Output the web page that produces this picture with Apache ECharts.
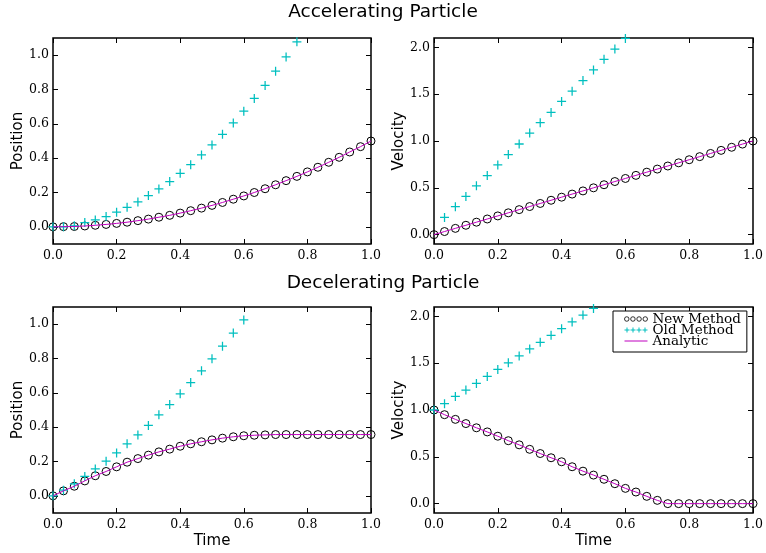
<!DOCTYPE html>
<html><head><meta charset="utf-8">
<script src="https://cdn.jsdelivr.net/npm/echarts@6/dist/echarts.min.js"></script>
<style>html,body{margin:0;padding:0;background:#fff}#c{width:766px;height:553px}</style>
</head><body><div id="c"></div>
<script>
// time samples
const time = [0, 0.033, 0.067, 0.1, 0.133, 0.167, 0.2, 0.233, 0.267, 0.3, 0.333, 0.367, 0.4, 0.433, 0.467, 0.5,
  0.533, 0.567, 0.6, 0.633, 0.667, 0.7, 0.733, 0.767, 0.8, 0.833, 0.867, 0.9, 0.933, 0.967, 1.0];

// Accelerating particle
const accPosNew = [0, 0.001, 0.002, 0.005, 0.009, 0.014, 0.02, 0.027, 0.036, 0.045, 0.056, 0.067, 0.08, 0.094, 0.109, 0.125,
  0.142, 0.161, 0.18, 0.2, 0.222, 0.245, 0.269, 0.294, 0.32, 0.347, 0.376, 0.405, 0.436, 0.467, 0.5];
const accPosOld = [0, 0, 0.006, 0.025, 0.04, 0.06, 0.085, 0.114, 0.145, 0.182, 0.221, 0.264, 0.312, 0.362, 0.419, 0.477,
  0.539, 0.605, 0.674, 0.748, 0.824, 0.907, 0.99, 1.078];
const accPosExact = [0, 0.001, 0.002, 0.005, 0.009, 0.014, 0.02, 0.027, 0.036, 0.045, 0.056, 0.067, 0.08, 0.094, 0.109, 0.125,
  0.142, 0.161, 0.18, 0.2, 0.222, 0.245, 0.269, 0.294, 0.32, 0.347, 0.376, 0.405, 0.436, 0.467, 0.5];
const accVelNew = [0, 0.033, 0.067, 0.1, 0.133, 0.167, 0.2, 0.233, 0.267, 0.3, 0.333, 0.367, 0.4, 0.433, 0.467, 0.5,
  0.533, 0.567, 0.6, 0.633, 0.667, 0.7, 0.733, 0.767, 0.8, 0.833, 0.867, 0.9, 0.933, 0.967, 1.0];
const accVelOld = [null, 0.184, 0.298, 0.408, 0.521, 0.631, 0.745, 0.855, 0.968, 1.085, 1.195, 1.305, 1.422, 1.532, 1.645,
  1.759, 1.872, 1.982, 2.095];
const accVelExact = [0, 0.033, 0.067, 0.1, 0.133, 0.167, 0.2, 0.233, 0.267, 0.3, 0.333, 0.367, 0.4, 0.433, 0.467, 0.5,
  0.533, 0.567, 0.6, 0.633, 0.667, 0.7, 0.733, 0.767, 0.8, 0.833, 0.867, 0.9, 0.933, 0.967, 1.0];

// Decelerating particle
const decPosNew = [0, 0.029, 0.056, 0.087, 0.117, 0.142, 0.169, 0.196, 0.217, 0.237, 0.256, 0.272, 0.289, 0.303, 0.315,
  0.326, 0.336, 0.344, 0.35, 0.353, 0.355, 0.357, 0.357, 0.357, 0.357, 0.357, 0.357, 0.357, 0.357, 0.357, 0.357];
const decPosOld = [0, 0.033, 0.07, 0.113, 0.157, 0.202, 0.25, 0.303, 0.355, 0.41, 0.472, 0.532, 0.594, 0.66, 0.728,
  0.798, 0.872, 0.948, 1.025, 1.105];
const decPosExact = [0, 0.029, 0.056, 0.087, 0.117, 0.142, 0.169, 0.196, 0.217, 0.237, 0.256, 0.272, 0.289, 0.303, 0.315,
  0.326, 0.336, 0.344, 0.35, 0.353, 0.355, 0.357, 0.357, 0.357, 0.357, 0.357, 0.357, 0.357, 0.357, 0.357, 0.357];
const decVelNew = [1.0, 0.95, 0.9, 0.855, 0.81, 0.766, 0.72, 0.672, 0.628, 0.58, 0.535, 0.49, 0.447, 0.394, 0.347,
  0.305, 0.26, 0.213, 0.163, 0.124, 0.078, 0.035, 0, 0, 0, 0, 0, 0, 0, 0, 0];
const decVelOld = [1.0, 1.067, 1.145, 1.213, 1.284, 1.358, 1.433, 1.504, 1.578, 1.652, 1.723, 1.798, 1.869, 1.94,
  2.014, 2.085];
const decVelExact = [1.0, 0.95, 0.9, 0.855, 0.81, 0.766, 0.72, 0.672, 0.628, 0.58, 0.535, 0.49, 0.447, 0.394, 0.347,
  0.305, 0.26, 0.213, 0.163, 0.124, 0.078, 0.035, 0, 0, 0, 0, 0, 0, 0, 0, 0];

// tick labels
const xTicks = [0, 0.2, 0.4, 0.6, 0.8, 1.0];
const posTicks = [0, 0.2, 0.4, 0.6, 0.8, 1.0];
const velTicks = [0, 0.5, 1.0, 1.5, 2.0];
const titles = ['Accelerating Particle', 'Decelerating Particle'];
const seriesNames = ['New Method', 'Old Method', 'Analytic'];

const CYAN = '#00bfbf', MAG = '#bf00bf';
const PLUS = 'path://M4.3,0H5.7V4.3H10V5.7H5.7V10H4.3V5.7H0V4.3H4.3Z';

function pairs(arr) { const out = []; arr.forEach((v, i) => { if (v !== null) out.push([time[i], v]); }); return out; }

const panels = [
  { grid: {left: 53, top: 38, width: 318, height: 206}, yMin: -0.1, yMax: 1.1, ticks: posTicks, yName: 'Position', xName: '', d: [accPosNew, accPosOld, accPosExact] },
  { grid: {left: 434, top: 38, width: 319, height: 206}, yMin: -0.1, yMax: 2.1, ticks: velTicks, yName: 'Velocity', xName: '', d: [accVelNew, accVelOld, accVelExact] },
  { grid: {left: 53, top: 307, width: 318, height: 206}, yMin: -0.1, yMax: 1.1, ticks: posTicks, yName: 'Position', xName: 'Time', d: [decPosNew, decPosOld, decPosExact] },
  { grid: {left: 434, top: 307, width: 319, height: 206}, yMin: -0.1, yMax: 2.1, ticks: velTicks, yName: 'Velocity', xName: 'Time', d: [decVelNew, decVelOld, decVelExact] }
];

const tickFont = {fontFamily: 'DejaVu Serif', fontSize: 12.5, color: '#000'};
const nameFont = {fontFamily: 'DejaVu Sans', fontSize: 15, color: '#000'};
const tickStyle = {show: true, inside: true, length: 5, lineStyle: {color: '#000', width: 1}};
const noLine = {show: false, onZero: false};

const grid = [], xAxis = [], yAxis = [], series = [];
panels.forEach((p, i) => {
  grid.push(Object.assign({show: true, borderColor: '#000', borderWidth: 1.5, backgroundColor: 'transparent', containLabel: false}, p.grid));
  xAxis.push({type: 'value', gridIndex: i, min: 0, max: 1, interval: 0.2, position: 'bottom',
    name: p.xName, nameLocation: 'middle', nameGap: 21, nameTextStyle: nameFont,
    axisLine: noLine, splitLine: {show: false},
    axisTick: Object.assign({customValues: xTicks}, tickStyle),
    axisLabel: {customValues: xTicks, formatter: v => v.toFixed(1), margin: 5, ...tickFont}});
  xAxis.push({type: 'value', gridIndex: i, min: 0, max: 1, interval: 0.2, position: 'top',
    axisLine: noLine, splitLine: {show: false}, axisLabel: {show: false},
    axisTick: Object.assign({customValues: xTicks}, tickStyle)});
  yAxis.push({type: 'value', gridIndex: i, min: p.yMin, max: p.yMax, position: 'left',
    name: p.yName, nameLocation: 'middle', nameGap: 27, nameRotate: 90, nameTextStyle: nameFont,
    axisLine: noLine, splitLine: {show: false},
    axisTick: Object.assign({customValues: p.ticks}, tickStyle),
    axisLabel: {customValues: p.ticks, formatter: v => v.toFixed(1), margin: 4, ...tickFont}});
  yAxis.push({type: 'value', gridIndex: i, min: p.yMin, max: p.yMax, position: 'right',
    axisLine: noLine, splitLine: {show: false}, axisLabel: {show: false},
    axisTick: Object.assign({customValues: p.ticks}, tickStyle)});
  series.push({type: 'scatter', name: seriesNames[0], xAxisIndex: 2 * i, yAxisIndex: 2 * i, data: pairs(p.d[0]),
    symbol: 'circle', symbolSize: 8, itemStyle: {color: 'rgba(0,0,0,0)', borderColor: '#000', borderWidth: 1, opacity: 1},
    silent: true, z: 2});
  series.push({type: 'scatter', name: seriesNames[1], xAxisIndex: 2 * i, yAxisIndex: 2 * i, data: pairs(p.d[1]),
    symbol: PLUS, symbolSize: 9, itemStyle: {color: CYAN, opacity: 1}, silent: true, z: 3});
  series.push({type: 'line', name: seriesNames[2], xAxisIndex: 2 * i, yAxisIndex: 2 * i, data: pairs(p.d[2]),
    symbol: 'none', lineStyle: {color: MAG, width: 1}, itemStyle: {color: MAG}, silent: true, z: 4});
});

function circlesPath() {
  let s = 'path://';
  [2.5, 8.5, 14.5, 20.5].forEach(cx => { s += `M${cx - 2.2},2.5a2.2,2.2 0 1,0 4.4,0a2.2,2.2 0 1,0 -4.4,0`; });
  return s;
}
function plusPath() {
  let s = 'path://';
  [0, 6, 12, 18].forEach(o => { s += `M${o + 2},0H${o + 3}V2H${o + 5}V3H${o + 3}V5H${o + 2}V3H${o}V2H${o + 2}Z`; });
  return s;
}

const titleStyle = {fontFamily: 'DejaVu Sans', fontSize: 18.5, fontWeight: 'normal', color: '#000'};
const option = {
  animation: false,
  backgroundColor: '#fff',
  title: [
    {text: titles[0], left: 'center', top: -2, textStyle: titleStyle},
    {text: titles[1], left: 'center', top: 269, textStyle: titleStyle}
  ],
  legend: {
    orient: 'vertical', left: 613, top: 311, selectedMode: false,
    borderColor: '#000', borderWidth: 1, backgroundColor: '#fff', padding: [1, 6, 4, 11],
    itemGap: -3, itemWidth: 23, itemHeight: 5,
    textStyle: {fontFamily: 'DejaVu Serif', fontSize: 13.5, color: '#000'},
    data: [
      {name: seriesNames[0], icon: circlesPath(), itemStyle: {color: 'rgba(0,0,0,0)', borderColor: '#000', borderWidth: 0.8}},
      {name: seriesNames[1], icon: plusPath(), itemStyle: {color: CYAN, borderWidth: 0}},
      {name: seriesNames[2], itemStyle: {color: 'rgba(0,0,0,0)', borderWidth: 0, opacity: 0}, lineStyle: {color: MAG, width: 1}}
    ]
  },
  grid, xAxis, yAxis, series
};
const chart = echarts.init(document.getElementById('c'), null, {renderer: 'canvas'});
chart.setOption(option);
</script>
</body></html>
